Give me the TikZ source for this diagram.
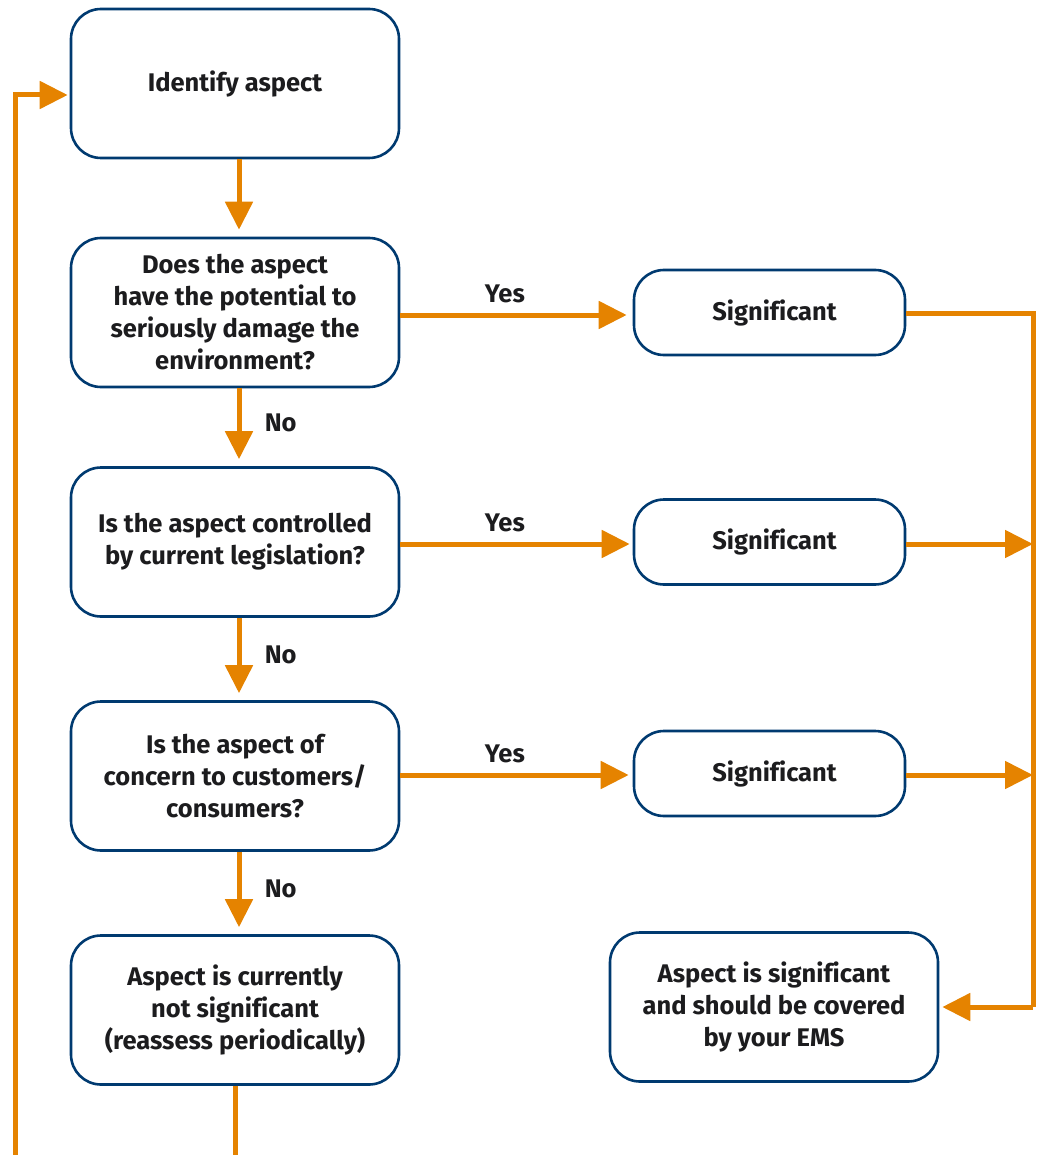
\documentclass[tikz,border=0pt]{standalone}
\usepackage{fontspec}
\setmainfont{Fira Sans}[Ligatures=CommonOff]
\usetikzlibrary{arrows.meta}
\definecolor{orng}{RGB}{229,131,0}
\definecolor{navy}{RGB}{0,58,112}
\definecolor{ink}{RGB}{28,28,30}
\begin{document}
\begin{tikzpicture}[x=1pt,y=-1pt,
  box/.style={draw=navy,line width=2.6pt,rounded corners=30pt,fill=white,
    minimum width=328pt,minimum height=149pt,align=center,text=ink,
    font=\fontsize{25.5}{32}\selectfont\bfseries,inner sep=0pt},
  sbox/.style={box,minimum width=271pt,minimum height=85pt},
  flow/.style={draw=orng,line width=5pt,-{Triangle[length=28pt,width=27pt]}},
  plain/.style={draw=orng,line width=5pt},
  lbl/.style={text=ink,font=\fontsize{25.5}{30}\selectfont\bfseries}]
\useasboundingbox (0,0) rectangle (1040,1155);
\node[box] (b1) at (235,83.5) {Identify aspect};
\node[box] (b2) at (235,312.5) {Does the aspect\\have the potential to\\seriously damage the\\environment?};
\node[box] (b3) at (235,542) {Is the aspect controlled\\by current legislation?};
\node[box] (b4) at (235,776) {Is the aspect of\\concern to customers/\\consumers?};
\node[box] (b5) at (235,1010) {Aspect is currently\\not significant\\(reassess periodically)};
\node[sbox] (s1) at (769.5,312.5) {\kern10pt\raisebox{-2pt}{Significant}};
\node[sbox] (s2) at (769.5,542) {\kern10pt\raisebox{-2pt}{Significant}};
\node[sbox] (s3) at (769.5,773.5) {\kern10pt\raisebox{-2pt}{Significant}};
\node[box] (fin) at (774,1007) {Aspect is significant\\and should be covered\\by your EMS};
\coordinate (r1) at (1033,313);
\coordinate (r2) at (1033,544);
\coordinate (r3) at (1033,775);
\coordinate (r4) at (1033,1007);
\coordinate (lb) at (15,1160);
\coordinate (lt) at (15,95);
\coordinate (bb) at (235,1160);
% down arrows
\draw[flow,shorten >=7pt] ([xshift=4pt]b1.south) -- ([xshift=4pt]b2.north);
\draw[flow,shorten >=7pt] ([xshift=4pt]b2.south) -- ([xshift=4pt]b3.north) node[lbl,pos=0.45,right=20pt] {No};
\draw[flow,shorten >=7pt] ([xshift=4pt]b3.south) -- ([xshift=4pt]b4.north) node[lbl,pos=0.45,right=20pt] {No};
\draw[flow,shorten >=7pt] ([xshift=4pt]b4.south) -- ([xshift=4pt]b5.north) node[lbl,pos=0.45,right=20pt] {No};
% yes arrows
\draw[flow,shorten >=6pt] (b2.east |- 0,315) -- (s1.west |- 0,315) node[lbl,pos=0.45,above=6pt] {Yes};
\draw[flow,shorten >=3pt] (b3.east |- 0,544) -- (s2.west |- 0,544) node[lbl,pos=0.45,above=6pt] {Yes};
\draw[flow,shorten >=4pt] (b4.east |- 0,775) -- (s3.west |- 0,775) node[lbl,pos=0.45,above=6pt] {Yes};
% right collector
\draw[plain] (s1.east |- r1) -- (r1) -- (r4);
\draw[flow] (s2.east |- r2) -- (r2);
\draw[flow] (s3.east |- r3) -- (r3);
\draw[flow,shorten >=3pt] (r4) -- (fin.east |- r4);
% loop
\draw[plain] (b5.south) -- (bb);
\draw[flow,shorten >=2pt] (lb) -- (lt) -- (b1.west |- lt);
\end{tikzpicture}
\end{document}
